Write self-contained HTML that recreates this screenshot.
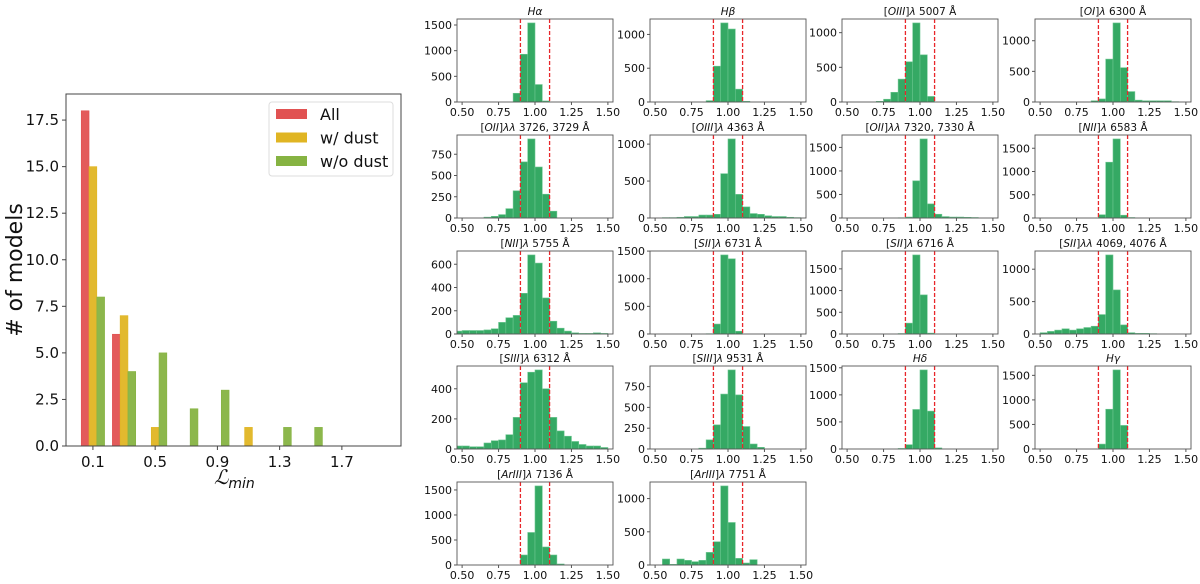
<!DOCTYPE html>
<html><head><meta charset="utf-8">
<style>
html,body{margin:0;padding:0;background:#fff;}
svg{display:block;font-family:"DejaVu Sans","Liberation Sans",sans-serif;}
</style></head>
<body>
<svg id="fig" width="1200" height="584" viewBox="0 0 1200 584" xmlns="http://www.w3.org/2000/svg"></svg>
<script>
// ---- Left chart data ----
const groupCenters = [0.1, 0.3, 0.5, 0.7, 0.9, 1.1, 1.3, 1.5];
const allCounts    = [18, 6, 0, 0, 0, 0, 0, 0];
const dustCounts   = [15, 7, 1, 0, 0, 1, 0, 0];
const noDustCounts = [8, 4, 5, 2, 3, 0, 1, 1];
const leftYTicks = [0, 2.5, 5, 7.5, 10, 12.5, 15, 17.5];
const leftXTicks = [0.1, 0.5, 0.9, 1.3, 1.7];
const seriesNames = ["All", "w/ dust", "w/o dust"];

// ---- Histogram panels data ----
const panelTitles = [
 ["","Hα"],["","Hβ"],["[OIII]","λ 5007 Å"],["[OI]","λ 6300 Å"],
 ["[OII]","λλ 3726, 3729 Å"],["[OIII]","λ 4363 Å"],["[OII]","λλ 7320, 7330 Å"],["[NII]","λ 6583 Å"],
 ["[NII]","λ 5755 Å"],["[SII]","λ 6731 Å"],["[SII]","λ 6716 Å"],["[SII]","λλ 4069, 4076 Å"],
 ["[SIII]","λ 6312 Å"],["[SIII]","λ 9531 Å"],["","Hδ"],["","Hγ"],
 ["[ArIII]","λ 7136 Å"],["[ArIII]","λ 7751 Å"]
];
const binStart = 0.45, binWidth = 0.05;
const panelCounts = [
 [0,0,0,0,0,0,0,0,170,930,1540,340,20,0,0,0,0,0,0,0,0],
 [0,0,0,0,0,0,0,0,20,530,1170,1080,190,10,0,0,0,0,0,0,0],
 [0,0,0,0,0,10,40,140,330,580,1140,680,80,0,0,0,0,0,0,0,0],
 [0,0,0,0,0,0,0,0,20,50,700,1290,560,170,30,20,20,20,20,5,0],
 [0,0,0,0,10,20,40,110,320,660,930,600,280,80,0,0,0,0,0,0,0],
 [0,0,5,5,10,20,20,40,40,50,600,1070,320,150,60,50,30,20,20,10,5],
 [0,0,0,0,0,0,0,0,5,20,790,1680,300,80,30,20,20,15,10,0,0],
 [0,0,0,0,0,0,0,0,0,70,1200,1700,60,10,0,0,0,0,0,0,0],
 [25,30,30,30,35,45,100,140,160,350,680,610,310,110,50,25,10,5,5,10,5],
 [0,0,0,0,0,0,0,0,5,180,1430,1360,50,0,0,0,0,0,0,0,0],
 [0,0,0,0,0,0,0,0,10,250,1820,900,20,0,0,0,0,0,0,0,0],
 [0,20,40,60,80,60,80,100,120,300,1220,680,140,20,10,10,5,0,0,0,0],
 [20,20,15,15,40,55,60,95,210,440,510,525,400,210,120,85,50,30,20,20,10],
 [0,0,0,0,0,0,0,10,110,290,660,950,650,270,60,20,0,0,0,0,0],
 [0,0,0,0,0,0,0,0,10,80,730,1460,700,20,0,0,0,0,0,0,0],
 [0,0,0,0,0,0,0,0,0,100,810,1610,480,0,0,0,0,0,0,0,0],
 [0,0,0,0,0,0,0,0,0,200,650,1580,360,200,20,0,0,0,0,0,0],
 [0,0,90,10,90,70,50,70,190,350,1190,640,100,30,80,0,0,0,0,0,0]
];
const panelTickSteps = [500,500,500,500,250,500,500,500,200,500,500,500,200,250,500,500,500,500];
const histXTicks = [0.5, 0.75, 1.0, 1.25, 1.5];
const cutLines = [0.9, 1.1];

const NS = "http://www.w3.org/2000/svg";
const svg = document.getElementById("fig");
function mk(tag, attrs, parent, text) {
  const e = document.createElementNS(NS, tag);
  for (const k in attrs) e.setAttribute(k, attrs[k]);
  if (text !== undefined) e.textContent = text;
  (parent || svg).appendChild(e);
  return e;
}

// ---- Left chart ----
(function () {
  const L = 66, R = 401, T = 94, B = 446;
  const x0 = -0.073, x1 = 2.08, yMax = 18.9;
  const xs = v => L + (v - x0) / (x1 - x0) * (R - L);
  const ys = v => B - v / yMax * (B - T);
  const g = mk("g", {});
  
  
  const colors = ["#e15252", "#e0b523", "#86b342"];
  const series = [allCounts, dustCounts, noDustCounts];
  const bw = 0.05;
  series.forEach((arr, s) => {
    arr.forEach((v, i) => {
      if (v <= 0) return;
      const xl = groupCenters[i] + (s - 1.5) * bw;
      const r = mk("rect", {x: xs(xl), y: ys(v), width: xs(xl + bw) - xs(xl), height: ys(0) - ys(v),
        fill: colors[s], "fill-opacity": 0.95, stroke: colors[s], "stroke-width": 0.6}, g);
      
      
    });
  });
  mk("rect", {x: L, y: T, width: R - L, height: B - T, fill: "none", stroke: "#444", "stroke-width": 1}, g);
  leftYTicks.forEach(t => {
    mk("line", {x1: L - 4, x2: L, y1: ys(t), y2: ys(t), stroke: "#444"}, g);
    const tx = mk("text", {x: L - 7, y: ys(t) + 5, "text-anchor": "end", "font-size": 15, fill: "#111"}, g, t.toFixed(1));
    
    
  });
  leftXTicks.forEach(t => {
    mk("line", {x1: xs(t), x2: xs(t), y1: B, y2: B + 4, stroke: "#444"}, g);
    const tx = mk("text", {x: xs(t), y: B + 21, "text-anchor": "middle", "font-size": 15, fill: "#111"}, g, t.toFixed(1));
    
    
  });
  const yl = mk("text", {x: 0, y: 0, transform: "translate(22,270) rotate(-90)", "text-anchor": "middle", "font-size": 22, fill: "#111"}, g, "# of models");
  
  
  const xl = mk("text", {x: 214, y: 484, "font-size": 20, "font-style": "italic", "font-family": "Liberation Serif, serif", fill: "#111"}, g);
  
  
  mk("tspan", {}, xl, "ℒ");
  mk("tspan", {dy: 4, "font-size": 14, "font-family": "DejaVu Sans, sans-serif"}, xl, "min");
  // legend
  const lg = mk("g", {}, g);
  
  
  mk("rect", {x: 269, y: 102, width: 124, height: 74, rx: 3, fill: "#fff", stroke: "#ddd"}, lg);
  seriesNames.forEach((n, i) => {
    const yy = 114 + i * 23.5;
    const e = mk("g", {}, lg);
    
    
    mk("rect", {x: 276, y: yy - 5, width: 31, height: 10, fill: colors[i]}, e);
    mk("text", {x: 320, y: yy + 6, "font-size": 16, fill: "#111"}, e, n);
  });
})();

// ---- Histogram panels ----
const colLefts = [457, 650, 842, 1035];
const rowTops = [19, 135, 251, 366, 482];
const PW = 156, PH = 83;
panelCounts.forEach((counts, p) => {
  const L = colLefts[p % 4], T = rowTops[Math.floor(p / 4)], R = L + PW, B = T + PH;
  const x0 = 0.465, x1 = 1.535;
  const maxV = Math.max.apply(null, counts);
  const yMax = maxV * 1.05;
  const xs = v => L + (v - x0) / (x1 - x0) * PW;
  const ys = v => B - v / yMax * PH;
  const g = mk("g", {});
  
  
  counts.forEach((c, i) => {
    if (c <= 0) return;
    const a = Math.max(binStart + i * binWidth, x0), b = binStart + (i + 1) * binWidth;
    const r = mk("rect", {x: xs(a), y: ys(c), width: xs(b) - xs(a), height: ys(0) - ys(c),
      fill: "#35a964", stroke: "#6cc690", "stroke-width": 0.6}, g);
    
    
  });
  cutLines.forEach(c => {
    const ln = mk("line", {x1: xs(c), x2: xs(c), y1: T, y2: B, stroke: "#e8262a", "stroke-width": 1.3, "stroke-dasharray": "4,2"}, g);
    
    
  });
  mk("rect", {x: L, y: T, width: PW, height: PH, fill: "none", stroke: "#555", "stroke-width": 0.9}, g);
  const step = panelTickSteps[p];
  for (let t = 0; t <= yMax; t += step) {
    mk("line", {x1: L - 3, x2: L, y1: ys(t), y2: ys(t), stroke: "#555"}, g);
    mk("text", {x: L - 5, y: ys(t) + 4, "text-anchor": "end", "font-size": 11, fill: "#111"}, g, String(t));
  }
  histXTicks.forEach(t => {
    mk("line", {x1: xs(t), x2: xs(t), y1: B, y2: B + 3, stroke: "#555"}, g);
    mk("text", {x: xs(t), y: B + 14, "text-anchor": "middle", "font-size": 11, fill: "#111"}, g, t.toFixed(2));
  });
  const tt = mk("text", {x: L + PW / 2, y: T - 4, "text-anchor": "middle", "font-size": 10.5, fill: "#111"}, g);
  
  
  const ttl = panelTitles[p];
  if (ttl[0]) {
    mk("tspan", {}, tt, "[");
    mk("tspan", {"font-style": "italic"}, tt, ttl[0].replace(/[\[\]]/g, ""));
    mk("tspan", {}, tt, "]");
    mk("tspan", {"font-style": "italic"}, tt, ttl[1].split(" ")[0]);
    mk("tspan", {}, tt, " " + ttl[1].split(" ").slice(1).join(" "));
  } else {
    mk("tspan", {"font-style": "italic"}, tt, ttl[1]);
  }
});
</script>
</body></html>
